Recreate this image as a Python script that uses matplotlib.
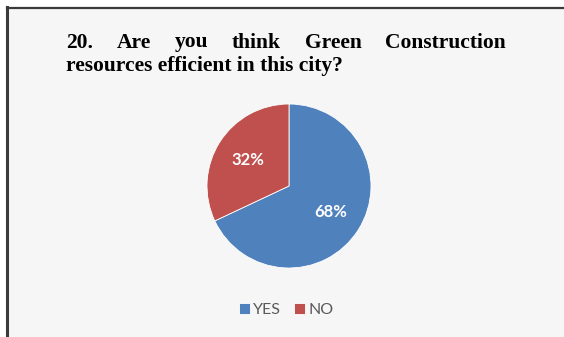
import matplotlib.pyplot as plt
from matplotlib.patches import Rectangle
from matplotlib.lines import Line2D

labels = ['YES', 'NO']
shares = [68, 32]
colors = ['#4f81bd', '#c0504d']

TITLE_LINE1 = ['20.', 'Are', 'you', 'think', 'Green', 'Construction']
TITLE_LINE2 = 'resources efficient in this city?'

W, H = 564, 337
fig = plt.figure(figsize=(W / 100, H / 100), dpi=100)
fig.patch.set_facecolor('white')

# panel background and the dark left/top frame
bg = fig.add_axes([0, 0, 1, 1])
bg.set_xlim(0, W)
bg.set_ylim(H, 0)
bg.axis('off')
bg.add_patch(Rectangle((7, 7), W - 7, H - 7, facecolor='#f6f6f6', edgecolor='none'))
bg.add_line(Line2D([7, 7], [7, H], color='#3a3a3a', lw=2.2))
bg.add_line(Line2D([7, W], [7.5, 7.5], color='#3a3a3a', lw=1.6))

# justified first title line: measure words then spread the gaps
title_kw = dict(family='Liberation Serif', weight='bold', fontsize=15.5,
                color='black', va='baseline')
left, right, base1, base2 = 66, 506, 47.5, 71
renderer = fig.canvas.get_renderer()
texts = [bg.text(0, base1, w, ha='left', **title_kw) for w in TITLE_LINE1]
widths = [t.get_window_extent(renderer).width for t in texts]
gap = (right - left - sum(widths)) / (len(widths) - 1)
x = left
for t, w in zip(texts, widths):
    t.set_x(x)
    x += w + gap
bg.text(left, base2, TITLE_LINE2, ha='left', **title_kw)

# pie
cx, cy, r = 289, 186, 82
ax = fig.add_axes([(cx - r) / W, (H - cy - r) / H, 2 * r / W, 2 * r / H])
ax.set_facecolor('none')
wedges, _, autotexts = ax.pie(
    shares, colors=colors, startangle=90, counterclock=False,
    autopct='%d%%', pctdistance=0.6,
    wedgeprops=dict(edgecolor='white', linewidth=0.6),
    textprops=dict(color='white', weight='bold', family='Lato', fontsize=12),
)
ax.set_xlim(-1, 1)
ax.set_ylim(-1, 1)
ax.set_aspect('auto')

# legend
leg = fig.legend(wedges, labels, loc='center', bbox_to_anchor=(286 / W, 1 - 310 / H),
                 ncol=2, frameon=False, handlelength=0.7, handleheight=0.7,
                 handletextpad=0.2, columnspacing=0.8,
                 prop=dict(family='Lato', size=11.5))
for t in leg.get_texts():
    t.set_color('#595959')

fig.savefig('out.png', dpi=100)
